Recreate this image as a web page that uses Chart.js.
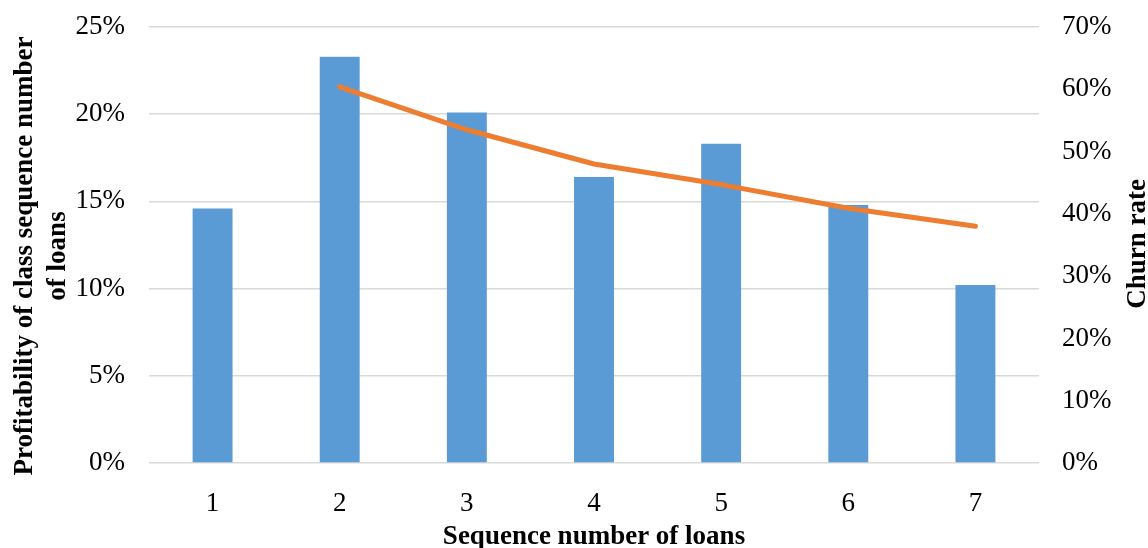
<!DOCTYPE html>
<html>
<head>
<meta charset="utf-8">
<script src="https://cdn.jsdelivr.net/npm/chart.js@4/dist/chart.umd.min.js"></script>
<style>
  html, body { margin: 0; padding: 0; background: #ffffff; }
  #wrap { width: 1148px; height: 548px; position: relative; }
</style>
</head>
<body>
<div id="wrap"><canvas id="c"></canvas></div>
<script>
// Loan sequence categories
const categories = ['1', '2', '3', '4', '5', '6', '7'];
// Profitability per loan sequence class (%), left axis
const profitability = [14.6, 23.3, 20.1, 16.4, 18.3, 14.8, 10.2];
// Churn rate (%), right axis; no value for the first loan
const churnRate = [null, 60.4, 53.5, 48.0, 44.7, 40.9, 38.0];
// Axis titles
const leftTitle = ['Profitability of class sequence number', 'of loans'];
const rightTitle = 'Churn rate';
const bottomTitle = 'Sequence number of loans';

const serif = "'Liberation Serif', 'Times New Roman', serif";

// Draws the three axis titles (the right one reads bottom-to-top like the left one)
const axisTitles = {
  id: 'axisTitles',
  afterDraw(chart) {
    const ctx = chart.ctx;
    const area = chart.chartArea;
    ctx.save();
    ctx.fillStyle = '#000000';
    ctx.font = 'bold 27px ' + serif;
    ctx.textAlign = 'center';
    ctx.textBaseline = 'alphabetic';

    // left title, two lines
    const leftBaselines = [31.5, 64.5];
    leftTitle.forEach((line, i) => {
      ctx.save();
      ctx.translate(leftBaselines[i], 256);
      ctx.rotate(-Math.PI / 2);
      ctx.fillText(line, 0, 0);
      ctx.restore();
    });

    // right title
    ctx.save();
    ctx.translate(1145, 244);
    ctx.rotate(-Math.PI / 2);
    ctx.fillText(rightTitle, 0, 0);
    ctx.restore();

    // bottom title
    ctx.fillText(bottomTitle, (area.left + area.right) / 2, 544);
    ctx.restore();
  }
};

// fixed axis box sizes so the plot area lands at a set place
function fixWidth(w) {
  return function (scale) {
    scale.width = w;
    scale.paddingTop = 0;
    scale.paddingBottom = 0;
  };
}

new Chart(document.getElementById('c'), {
  data: {
    labels: categories,
    datasets: [
      {
        type: 'line',
        label: rightTitle,
        data: churnRate,
        yAxisID: 'yRight',
        borderColor: '#ED7D31',
        backgroundColor: '#ED7D31',
        borderWidth: 5,
        borderCapStyle: 'round',
        borderJoinStyle: 'round',
        pointRadius: 0,
        tension: 0,
        order: 0
      },
      {
        type: 'bar',
        label: 'Profitability',
        data: profitability,
        yAxisID: 'yLeft',
        backgroundColor: '#5B9BD5',
        borderWidth: 0,
        categoryPercentage: 1,
        barPercentage: 0.314,
        order: 1
      }
    ]
  },
  options: {
    responsive: true,
    maintainAspectRatio: false,
    animation: false,
    layout: { padding: { top: 27, left: 0, right: 0, bottom: 0 } },
    plugins: {
      legend: { display: false },
      tooltip: { enabled: false },
      title: { display: false }
    },
    scales: {
      x: {
        grid: { display: false },
        border: { display: false },
        ticks: {
          color: '#000000',
          font: { family: serif, size: 27 },
          padding: 17,
          maxRotation: 0
        },
        afterFit(scale) {
          scale.height = 85;
          scale.paddingLeft = 0;
          scale.paddingRight = 0;
        }
      },
      yLeft: {
        position: 'left',
        min: 0,
        max: 25,
        grid: { color: '#D9D9D9', lineWidth: 1.5, drawTicks: false },
        border: { display: false },
        ticks: {
          stepSize: 5,
          color: '#000000',
          font: { family: serif, size: 27 },
          padding: 24,
          callback: v => v + '%'
        },
        afterFit: fixWidth(149)
      },
      yRight: {
        position: 'right',
        min: 0,
        max: 70,
        grid: { display: false, drawTicks: false },
        border: { display: false },
        ticks: {
          stepSize: 10,
          color: '#000000',
          font: { family: serif, size: 27 },
          padding: 23,
          callback: v => v + '%'
        },
        afterFit: fixWidth(109)
      }
    }
  },
  plugins: [axisTitles]
});
</script>
</body>
</html>
